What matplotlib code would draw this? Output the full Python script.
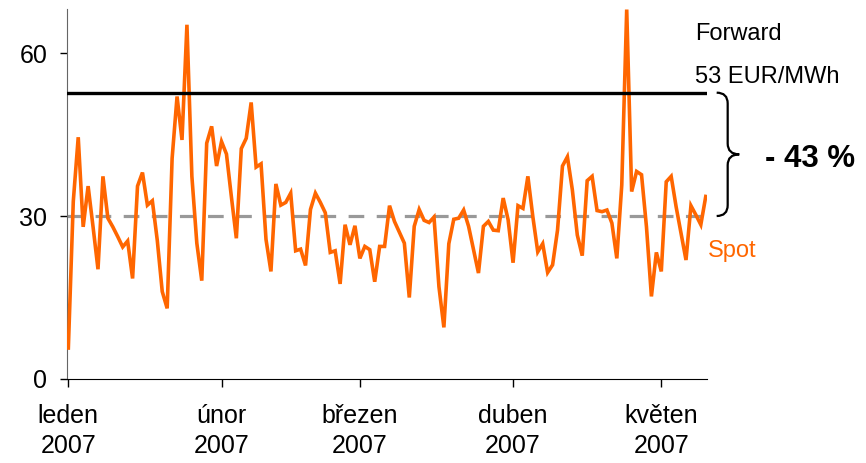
import numpy as np
import pandas as pd
import matplotlib
matplotlib.use("Agg")
import matplotlib.pyplot as plt
from matplotlib.path import Path
from matplotlib.patches import PathPatch
import matplotlib.transforms as mtransforms

plt.rcParams['font.family'] = ['Liberation Sans', 'DejaVu Sans']

# ---- data ----
start_date = "2007-01-01"
spot = [5.7, 32.7, 44.5, 28.0, 35.5, 28.0, 20.2, 37.3, 29.6, 28.0,
        26.2, 24.3, 25.4, 18.5, 35.5, 38.0, 32.0, 32.8, 25.5, 16.1,
        13.0, 40.6, 52.0, 44.0, 65.2, 37.3, 25.0, 18.1, 43.4, 46.5,
        39.2, 43.7, 41.4, 33.5, 25.9, 42.4, 44.3, 50.9, 39.0, 39.6,
        25.7, 19.8, 35.9, 32.0, 32.5, 34.2, 23.6, 23.9, 20.9, 31.2,
        34.2, 32.5, 30.6, 23.3, 23.6, 17.5, 28.4, 24.7, 28.2, 22.2,
        24.4, 23.8, 17.9, 24.4, 24.4, 31.9, 29.0, 27.0, 25.0, 15.0,
        28.1, 31.2, 29.2, 28.8, 29.8, 17.0, 9.5, 24.9, 29.4, 29.6,
        31.1, 28.1, 23.8, 19.5, 28.1, 29.0, 27.4, 27.3, 33.3, 29.3,
        21.4, 31.9, 31.4, 37.3, 29.9, 23.4, 24.9, 19.6, 21.0, 27.4,
        39.2, 40.9, 34.8, 26.5, 22.7, 36.5, 37.3, 31.0, 30.8, 31.1,
        28.7, 22.2, 35.7, 68.0, 34.5, 38.2, 37.6, 28.0, 15.2, 23.3,
        19.8, 36.3, 37.3, 31.7, 26.8, 21.9, 31.9, 30.2, 28.4, 33.6]
forward_level = 52.7
spot_avg = 30.0
month_starts = ["2007-01-01", "2007-02-01", "2007-03-01", "2007-04-01", "2007-05-01"]
month_labels = ["leden\n2007", "únor\n2007", "březen\n2007", "duben\n2007", "květen\n2007"]
y_ticks = [0, 30, 60]

dates = pd.date_range(start_date, periods=len(spot), freq="D")

W, H = 866, 463
fig = plt.figure(figsize=(W / 100, H / 100), dpi=100)
ax = fig.add_axes([66.7 / W, 1 - 379 / H, (707 - 66.7) / W, (379 - 9) / H])

orange = "#FF6600"
ax.plot(dates, spot, color=orange, lw=2.6, solid_joinstyle="miter", zorder=3)
ax.axhline(forward_level, color="black", lw=2.4, zorder=4)
ax.axhline(spot_avg, color="#999999", lw=2.3, dashes=(4.9, 3.9), zorder=2)

ax.set_ylim(0, 68.1)
ax.set_xlim(pd.Timestamp(start_date) - pd.Timedelta(hours=8), dates[-1] + pd.Timedelta(hours=6))
ax.set_yticks(y_ticks)
ax.set_xticks(pd.to_datetime(month_starts))
ax.set_xticklabels(month_labels, linespacing=1.3)
ax.tick_params(axis="y", labelsize=18, length=5, width=1, pad=9, direction="out")
ax.tick_params(axis="x", labelsize=18, length=6, width=1, pad=12, direction="out")
for s in ["top", "right"]:
    ax.spines[s].set_visible(False)
ax.spines["left"].set_color("#666666")
ax.spines["bottom"].set_color("black")

# brace
trans = mtransforms.blended_transform_factory(ax.transAxes, ax.transData)
x0, x1, x2 = 1.0151, 1.0323, 1.0504
ytop, ybot = forward_level, spot_avg
ymid = (ytop + ybot) / 2
r = 2.0
verts = [(x0, ytop), (x1, ytop), (x1, ytop - r),
         (x1, ymid + r),
         (x1, ymid), (x2, ymid),
         (x1, ymid), (x1, ymid - r),
         (x1, ybot + r),
         (x1, ybot), (x0, ybot)]
codes = [Path.MOVETO, Path.CURVE3, Path.CURVE3,
         Path.LINETO,
         Path.CURVE3, Path.CURVE3,
         Path.CURVE3, Path.CURVE3,
         Path.LINETO,
         Path.CURVE3, Path.CURVE3]
ax.add_patch(PathPatch(Path(verts, codes), transform=trans, fill=False,
                       lw=1.6, color="black", clip_on=False))

def ftext(x, y, s, **kw):
    fig.text(x / W, 1 - y / H, s, **kw)

ftext(695, 40, "Forward", fontsize=17, va="baseline", ha="left")
ftext(695, 83, "53 EUR/MWh", fontsize=17, va="baseline", ha="left")
ftext(765, 167, "- 43 %", fontsize=22.5, fontweight="bold", va="baseline", ha="left")
ftext(708, 257, "Spot", fontsize=17, color=orange, va="baseline", ha="left")

fig.savefig("out.png", dpi=100)
